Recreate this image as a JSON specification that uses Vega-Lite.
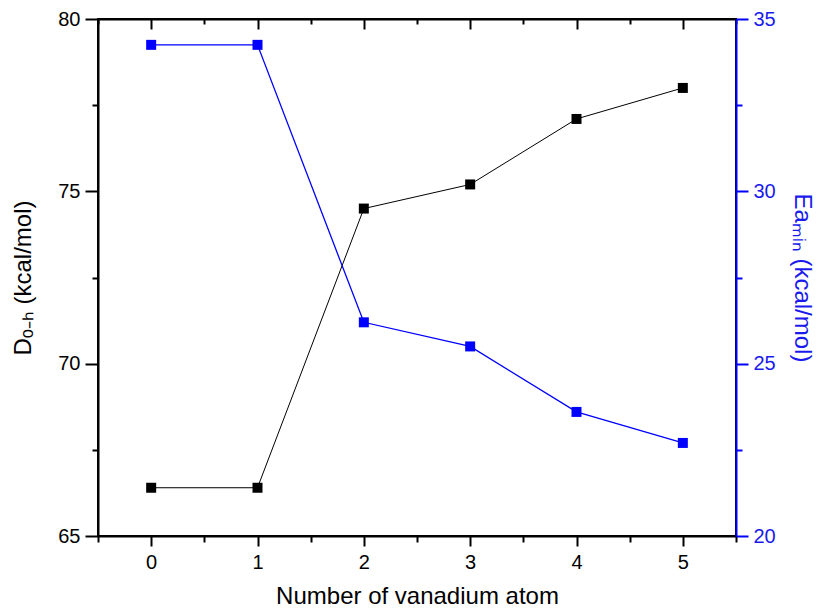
{
  "$schema": "https://vega.github.io/schema/vega-lite/v6.json",
  "width": 638,
  "height": 517,
  "autosize": {"type": "none"},
  "padding": {"left": 98, "top": 19, "right": 81, "bottom": 74},
  "background": "white",
  "config": {
    "view": {"stroke": "black", "strokeWidth": 2},
    "font": "Liberation Sans",
    "axis": {
      "grid": false,
      "labelFont": "Liberation Sans",
      "titleFont": "Liberation Sans",
      "labelFontSize": 20,
      "titleFontSize": 24,
      "titleFontWeight": "normal",
      "labelColor": "black",
      "titleColor": "black",
      "domainColor": "black",
      "tickColor": "black",
      "domainWidth": 2,
      "tickWidth": 2,
      "labelPadding": 5
    }
  },
  "data": {
    "values": [
      {"n": 0, "D": 66.4, "Ea": 34.25},
      {"n": 1, "D": 66.4, "Ea": 34.25},
      {"n": 2, "D": 74.5, "Ea": 26.2},
      {"n": 3, "D": 75.2, "Ea": 25.5},
      {"n": 4, "D": 77.1, "Ea": 23.6},
      {"n": 5, "D": 78.0, "Ea": 22.7}
    ]
  },
  "layer": [
    {
      "encoding": {
        "x": {
          "field": "n",
          "type": "quantitative",
          "scale": {"domain": [-0.5, 5.5], "nice": false, "zero": false},
          "axis": {
            "orient": "bottom",
            "title": "Number of vanadium atom",
            "values": [-0.5, 0, 0.5, 1, 1.5, 2, 2.5, 3, 3.5, 4, 4.5, 5, 5.5],
            "labelExpr": "datum.value % 1 == 0 ? format(datum.value, 'd') : ''",
            "tickSize": {"condition": {"test": "datum.value % 1 != 0", "value": 6}, "value": 10},
            "labelFlush": false,
            "labelPadding": 6,
            "titlePadding": 12
          }
        },
        "y": {
          "field": "D",
          "type": "quantitative",
          "scale": {"domain": [65, 80], "nice": false, "zero": false},
          "axis": {
            "orient": "left",
            "title": "Dₒ₋ₕ (kcal/mol)",
            "values": [65, 67.5, 70, 72.5, 75, 77.5, 80],
            "labelExpr": "datum.value % 5 == 0 ? datum.label : ''",
            "tickSize": {"condition": {"test": "datum.value % 5 != 0", "value": 6}, "value": 13},
            "labelFlush": false,
            "titlePadding": 22
          }
        }
      },
      "layer": [
        {"mark": {"type": "line", "color": "black", "strokeWidth": 1}},
        {"mark": {"type": "point", "shape": "square", "filled": true, "color": "black", "opacity": 1, "size": 100}}
      ]
    },
    {
      "encoding": {
        "x": {
          "field": "n",
          "type": "quantitative",
          "scale": {"domain": [-0.5, 5.5], "nice": false, "zero": false},
          "axis": {
            "orient": "top",
            "title": null,
            "values": [-0.5, 0, 0.5, 1, 1.5, 2, 2.5, 3, 3.5, 4, 4.5, 5, 5.5],
            "labels": false,
            "tickSize": {"condition": {"test": "datum.value % 1 != 0", "value": -5}, "value": -10}
          }
        },
        "y": {
          "field": "Ea",
          "type": "quantitative",
          "scale": {"domain": [20, 35], "nice": false, "zero": false},
          "axis": {
            "orient": "right",
            "title": "Eaₘᵢₙ (kcal/mol)",
            "values": [20, 22.5, 25, 27.5, 30, 32.5, 35],
            "labelExpr": "datum.value % 5 == 0 ? datum.label : ''",
            "tickSize": {"condition": {"test": "datum.value % 5 != 0", "value": 6}, "value": 12},
            "labelFlush": false,
            "domainColor": "#0000ff",
            "tickColor": "#0000ff",
            "labelColor": "#1a1aee",
            "titleColor": "#1a1aee",
            "titlePadding": 14
          }
        }
      },
      "layer": [
        {"mark": {"type": "line", "color": "#0000ff", "strokeWidth": 1.3}},
        {"mark": {"type": "point", "shape": "square", "filled": true, "color": "#0000ff", "opacity": 1, "size": 100}}
      ]
    }
  ],
  "resolve": {
    "scale": {"y": "independent"},
    "axis": {"x": "independent", "y": "independent"}
  }
}
